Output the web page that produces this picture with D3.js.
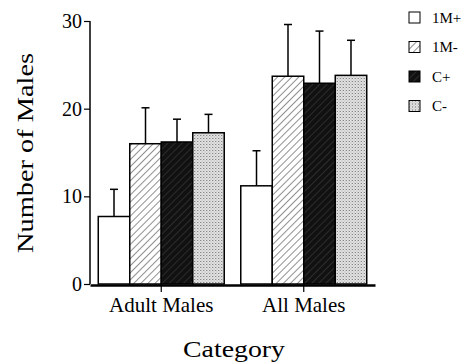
<!DOCTYPE html>
<html>
<head>
<meta charset="utf-8">
<script src="https://cdn.jsdelivr.net/npm/d3@7"></script>
<style>
  body { margin: 0; background: #fff; }
</style>
</head>
<body>
<svg class="chart"></svg>
<script>
var categories = ["Adult Males", "All Males"];
var series = ["1M+", "1M-", "C+", "C-"];
var means = [
  [7.7, 16.0, 16.2, 17.25],
  [11.2, 23.7, 22.9, 23.8]
];
var errTops = [
  [10.8, 20.1, 18.8, 19.35],
  [15.2, 29.6, 28.85, 27.8]
];
var yTicks = [0, 10, 20, 30];

var serif = "Liberation Serif";
var width = 471;
var height = 363;
var svg = d3.select(".chart").attr("width", width).attr("height", height);

// fill patterns
var defs = svg.append("defs");
var hatch = defs.append("pattern")
    .attr("id", "hatch").attr("patternUnits", "userSpaceOnUse")
    .attr("width", 5).attr("height", 5)
    .attr("patternTransform", "rotate(45)");
hatch.append("rect").attr("width", 5).attr("height", 5).attr("fill", "#fff");
hatch.append("line").attr("x1", 0).attr("y1", 0).attr("x2", 0).attr("y2", 5)
    .attr("stroke", "#222").attr("stroke-width", 1);

var dark = defs.append("pattern")
    .attr("id", "dark").attr("patternUnits", "userSpaceOnUse")
    .attr("width", 5).attr("height", 5)
    .attr("patternTransform", "rotate(45)");
dark.append("rect").attr("width", 5).attr("height", 5).attr("fill", "#111");
dark.append("line").attr("x1", 0).attr("y1", 0).attr("x2", 0).attr("y2", 5)
    .attr("stroke", "#555").attr("stroke-width", 0.8);

var dots = defs.append("pattern")
    .attr("id", "dots").attr("patternUnits", "userSpaceOnUse")
    .attr("width", 3).attr("height", 3);
dots.append("rect").attr("width", 3).attr("height", 3).attr("fill", "#e6e6e6");
dots.append("rect").attr("x", 0).attr("y", 0).attr("width", 1).attr("height", 1).attr("fill", "#666");
dots.append("rect").attr("x", 1.5).attr("y", 1.5).attr("width", 1).attr("height", 1).attr("fill", "#999");

var fills = ["#fff", "url(#hatch)", "url(#dark)", "url(#dots)"];

var x0 = d3.scaleBand()
    .domain(categories)
    .range([90, 375])
    .paddingInner(0.116)
    .paddingOuter(0.058);

var x1 = d3.scaleBand()
    .domain(series)
    .range([0, x0.bandwidth()]);

var y = d3.scaleLinear()
    .domain([0, 30])
    .range([284, 21]);

var groups = svg.selectAll("g.grp")
    .data(categories)
    .enter().append("g")
    .attr("class", "grp")
    .attr("transform", function(d){ return "translate(" + x0(d) + ",0)"; });

groups.each(function(cat, ci){
  var g = d3.select(this);
  series.forEach(function(s, si){
    var bx = x1(s);
    var bw = x1.bandwidth();
    // error bar, upper side only
    var cx = bx + bw / 2;
    g.append("line")
        .attr("x1", cx).attr("x2", cx)
        .attr("y1", y(means[ci][si])).attr("y2", y(errTops[ci][si]))
        .attr("stroke", "#000").attr("stroke-width", 1.5);
    g.append("line")
        .attr("x1", cx - 4).attr("x2", cx + 4)
        .attr("y1", y(errTops[ci][si])).attr("y2", y(errTops[ci][si]))
        .attr("stroke", "#000").attr("stroke-width", 1.5);
    g.append("rect")
        .attr("x", bx).attr("y", y(means[ci][si]))
        .attr("width", bw).attr("height", y(0) - y(means[ci][si]))
        .attr("fill", fills[si])
        .attr("stroke", "#000").attr("stroke-width", 1.5);
  });
});

// y axis
var yAxis = svg.append("g")
    .attr("transform", "translate(90,0)")
    .call(d3.axisLeft(y).tickValues(yTicks).tickSize(6).tickPadding(2));
yAxis.attr("font-family", serif).attr("font-size", 20);
yAxis.select(".domain").attr("stroke-width", 1.5).attr("d", "M0," + y(30) + "V" + y(0));
yAxis.selectAll(".tick line").attr("stroke-width", 1.2);
yAxis.selectAll("text").attr("fill", "#000");

// x axis
var xAxis = svg.append("g")
    .attr("transform", "translate(0,285)")
    .call(d3.axisBottom(x0).tickSize(7).tickPadding(5).tickSizeOuter(0));
xAxis.attr("font-family", serif).attr("font-size", 21);
xAxis.select(".domain").attr("stroke-width", 2.5);
xAxis.selectAll(".tick line").attr("stroke-width", 1.2);
xAxis.selectAll("text").attr("fill", "#000");

// axis titles
svg.append("text")
    .attr("transform", "translate(33,153) rotate(-90)")
    .attr("text-anchor", "middle")
    .attr("font-family", serif)
    .attr("font-size", 24)
    .attr("textLength", 200).attr("lengthAdjust", "spacingAndGlyphs")
    .text("Number of Males");

svg.append("text")
    .attr("x", 234).attr("y", 357)
    .attr("text-anchor", "middle")
    .attr("font-family", serif)
    .attr("font-size", 24)
    .attr("textLength", 102).attr("lengthAdjust", "spacingAndGlyphs")
    .text("Category");

// legend
var legend = svg.selectAll("g.leg")
    .data(series)
    .enter().append("g")
    .attr("class", "leg")
    .attr("transform", function(d, i){ return "translate(409," + (12 + i * 29.5) + ")"; });
legend.append("rect")
    .attr("width", 11).attr("height", 11)
    .attr("fill", function(d, i){ return fills[i]; })
    .attr("stroke", "#000").attr("stroke-width", 1);
legend.append("text")
    .attr("x", 23).attr("y", 10.5)
    .attr("font-family", serif)
    .attr("font-size", 15)
    .text(function(d){ return d; });
</script>
</body>
</html>
